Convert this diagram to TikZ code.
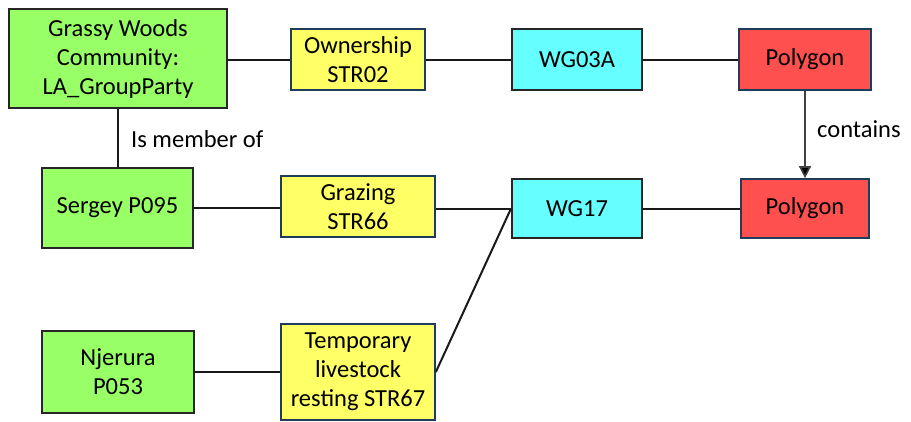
\documentclass[tikz,border=0pt]{standalone}
\usepackage{fontspec}
\setmainfont{Carlito}
\usetikzlibrary{arrows.meta}
\definecolor{cgreen}{RGB}{153,255,102}
\definecolor{cyellow}{RGB}{255,255,102}
\definecolor{ccyan}{RGB}{102,255,255}
\definecolor{cred}{RGB}{255,80,80}
\definecolor{cedge}{RGB}{31,60,90}
\tikzset{
  box/.style={draw, line width=2pt, inner sep=0pt, align=center,
    font=\fontsize{24.5}{29}\selectfont},
  party/.style={box, fill=cgreen, draw=black!85},
  rrr/.style={box, fill=cyellow, draw=cedge, line width=1.7pt},
  unit/.style={box, fill=ccyan, draw=black!85},
  poly/.style={box, fill=cred, draw=cedge, line width=1.7pt},
  conn/.style={line width=2pt, draw=black!90},
  lbl/.style={font=\fontsize{24.5}{29}\selectfont, inner sep=0pt, anchor=west}
}
\begin{document}
\begin{tikzpicture}[x=1pt,y=-1pt]
\useasboundingbox (0,0) rectangle (911,421);
\node[party, minimum width=218pt, minimum height=99pt] (gw) at (118,58.5) {Grassy Woods\\Community:\\LA\_GroupParty};
\node[rrr, minimum width=134pt, minimum height=61pt] (own) at (358,59.5) {Ownership\\STR02};
\node[unit, minimum width=130pt, minimum height=61pt] (wg03) at (577,59.5) {WG03A};
\node[poly, minimum width=132pt, minimum height=61pt] (p1) at (805,59.5) {Polygon};
\node[party, minimum width=151pt, minimum height=80pt] (ser) at (117.5,208) {Sergey P095};
\node[rrr, minimum width=154pt, minimum height=61pt] (gra) at (358,206.5) {Grazing\\STR66};
\node[unit, minimum width=130pt, minimum height=59pt] (wg17) at (577,208.5) {WG17};
\node[poly, minimum width=128pt, minimum height=59pt] (p2) at (805,208.5) {Polygon};
\node[party, minimum width=152pt, minimum height=82pt] (nje) at (118,372) {Njerura\\P053};
\node[rrr, minimum width=154pt, minimum height=96pt] (tmp) at (358,372) {Temporary\\livestock\\resting STR67};
\draw[conn] (gw.east |- own.west) -- (own.west);
\draw[conn] (own) -- (wg03);
\draw[conn] (wg03) -- (p1);
\draw[conn] (gw.south -| ser.north) -- (ser.north);
\draw[conn] (ser) -- (ser -| gra.west);
\draw[conn] (gra.east |- wg17.west) -- (wg17.west);
\draw[conn] (wg17) -- (p2);
\draw[conn] (nje) -- (tmp);
\draw[conn] (tmp.east) -- (wg17.west);
\draw[line width=1.6pt, draw=black!75, -{Triangle[width=12pt,length=12pt,fill=black]}] (p1.south) -- (p2.north);
\node[lbl] (ism) at (131,139) {Is member of};
\node[lbl] (cont) at (817,129) {contains};
\end{tikzpicture}
\end{document}
